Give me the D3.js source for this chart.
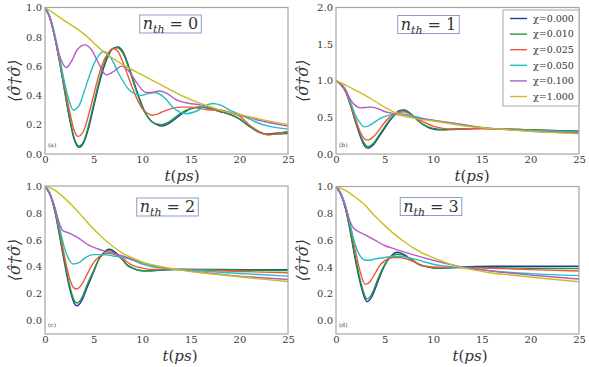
<!DOCTYPE html>
<html>
<head>
<meta charset="utf-8">
<script src="https://cdn.jsdelivr.net/npm/d3@7"></script>
<style>
  body { margin: 0; background: #fff; }
  svg text { font-family: "DejaVu Serif", "Liberation Serif", serif; }
</style>
</head>
<body>
<div id="chart"></div>
<script>
// Population <σ†σ> vs t(ps) for four thermal occupations, six χ values each

const chiLabels = ["χ=0.000", "χ=0.010", "χ=0.025", "χ=0.050", "χ=0.100", "χ=1.000"];
const colors = ["#1f3d9a", "#1d9a3c", "#f2553a", "#22bfc0", "#b35cc4", "#c9be1f"];
const xTicks = [0, 5, 10, 15, 20, 25];
const yTicksUnit = [0, 0.2, 0.4, 0.6, 0.8, 1.0];
const yTicksTwo = [0, 0.5, 1.0, 1.5, 2.0];
const nthValues = [0, 1, 2, 3];
const panelTags = ["(a)", "(b)", "(c)", "(d)"];

// panel (a): n_th = 0, points are [t, value]
const nA0 = [[0,1],[0.5,0.93],[1,0.8],[1.5,0.63],[2,0.44],[2.5,0.25],[3,0.1],[3.5,0.045],[4,0.08],[4.5,0.18],[5,0.32],[5.5,0.46],[6,0.58],[6.5,0.67],[7,0.72],[7.5,0.73],[8,0.7],[8.5,0.62],[9,0.52],[9.5,0.42],[10,0.33],[10.5,0.26],[11,0.22],[11.5,0.2],[12,0.19],[12.5,0.2],[13,0.22],[14,0.27],[15,0.31],[16,0.32],[17,0.31],[18,0.29],[19,0.27],[20,0.24],[21,0.19],[22,0.15],[22.8,0.135],[23.5,0.14],[25,0.15]];
const nA1 = [[0,1],[0.5,0.93],[1,0.8],[1.5,0.63],[2,0.44],[2.5,0.26],[3,0.11],[3.5,0.055],[4,0.09],[4.5,0.2],[5,0.34],[5.5,0.48],[6,0.6],[6.5,0.68],[7,0.72],[7.4,0.725],[8,0.69],[8.5,0.61],[9,0.51],[9.5,0.41],[10,0.32],[10.5,0.26],[11,0.22],[11.5,0.205],[12,0.2],[12.5,0.21],[13,0.23],[14,0.28],[15,0.31],[16,0.32],[17,0.31],[18,0.29],[19,0.27],[20,0.24],[21,0.19],[22,0.15],[22.7,0.135],[23.5,0.135],[25,0.14]];
const nA2 = [[0,1],[0.5,0.93],[1,0.8],[1.5,0.64],[2,0.47],[2.5,0.3],[3,0.16],[3.4,0.12],[4,0.16],[4.5,0.27],[5,0.4],[5.5,0.53],[6,0.63],[6.5,0.69],[7,0.72],[7.5,0.7],[8,0.63],[8.5,0.54],[9,0.45],[9.5,0.37],[10,0.31],[10.5,0.28],[11,0.265],[11.5,0.27],[12,0.285],[13,0.31],[14,0.32],[15,0.32],[16,0.31],[17,0.3],[18,0.3],[19,0.285],[20,0.26],[21,0.2],[22,0.155],[23,0.13],[24,0.14],[25,0.155]];
const nA3 = [[0,1],[0.5,0.94],[1,0.82],[1.5,0.66],[2,0.49],[2.5,0.36],[2.9,0.3],[3.5,0.33],[4,0.42],[4.5,0.52],[5,0.61],[5.5,0.67],[6,0.7],[6.5,0.68],[7,0.63],[7.5,0.56],[8,0.5],[8.5,0.45],[9,0.42],[9.8,0.4],[10.5,0.41],[11.3,0.42],[12,0.4],[12.5,0.37],[13,0.33],[13.5,0.3],[14.5,0.275],[15.5,0.29],[16.5,0.33],[17.3,0.345],[18,0.335],[19,0.3],[20,0.27],[21,0.24],[22,0.21],[23,0.19],[25,0.17]];
const nA4 = [[0,1],[0.5,0.93],[1,0.8],[1.5,0.67],[2.2,0.59],[2.7,0.63],[3.3,0.71],[4.1,0.745],[4.8,0.71],[5.5,0.62],[6.3,0.54],[7,0.56],[7.9,0.6],[8.7,0.56],[9.5,0.48],[10.4,0.42],[11,0.42],[11.7,0.43],[12.5,0.415],[13.5,0.37],[14.5,0.35],[16,0.335],[17,0.32],[18,0.3],[20,0.265],[22,0.23],[25,0.19]];
const nA5 = [[0,1],[2,0.91],[4,0.82],[6,0.7],[8,0.61],[10,0.54],[12,0.47],[14,0.4],[16,0.345],[18,0.3],[20,0.27],[22,0.24],[25,0.2]];

// panel (b): n_th = 1
const nB0 = [[0,1],[0.5,0.95],[1,0.85],[1.5,0.66],[2,0.44],[2.5,0.24],[3,0.1],[3.3,0.08],[3.8,0.12],[4.5,0.25],[5,0.35],[5.5,0.45],[6,0.53],[6.5,0.59],[7,0.6],[7.5,0.57],[8,0.51],[8.5,0.45],[9,0.4],[9.5,0.36],[10,0.34],[10.5,0.33],[11,0.33],[12,0.335],[13,0.34],[15,0.35],[17,0.34],[20,0.33],[25,0.31]];
const nB1 = [[0,1],[0.5,0.95],[1,0.85],[1.5,0.67],[2,0.46],[2.5,0.26],[3,0.13],[3.3,0.1],[3.8,0.14],[4.5,0.27],[5,0.37],[5.5,0.46],[6,0.53],[6.5,0.58],[6.9,0.59],[7.5,0.56],[8,0.51],[8.5,0.45],[9,0.4],[9.5,0.37],[10,0.35],[10.5,0.34],[11,0.335],[12,0.34],[13,0.345],[15,0.35],[17,0.34],[20,0.33],[25,0.31]];
const nB2 = [[0,1],[0.5,0.95],[1,0.85],[1.5,0.68],[2,0.48],[2.5,0.3],[3,0.2],[3.3,0.19],[3.8,0.23],[4.5,0.34],[5,0.43],[5.5,0.5],[6,0.55],[6.5,0.57],[7,0.575],[7.5,0.55],[8,0.51],[9,0.44],[10,0.38],[11,0.35],[12,0.34],[14,0.345],[16,0.345],[20,0.32],[25,0.3]];
const nB3 = [[0,1],[0.5,0.96],[1,0.88],[1.5,0.71],[2,0.53],[2.5,0.42],[2.9,0.37],[3.3,0.38],[3.8,0.42],[4.6,0.49],[5.5,0.53],[6.5,0.55],[7.5,0.53],[8.5,0.5],[10,0.46],[12,0.42],[14.5,0.37],[17,0.34],[20,0.32],[25,0.3]];
const nB4 = [[0,1],[0.8,0.91],[1.5,0.74],[2,0.66],[2.5,0.63],[3.5,0.64],[4.3,0.62],[5,0.58],[6,0.55],[7.5,0.51],[9,0.48],[11,0.44],[12.6,0.41],[15,0.36],[18,0.33],[20,0.31],[25,0.29]];
const nB5 = [[0,1],[1,0.94],[2,0.87],[3,0.8],[4,0.72],[5,0.64],[6,0.57],[7,0.52],[8,0.49],[10,0.45],[12,0.41],[14,0.37],[16,0.35],[18,0.33],[20,0.31],[22,0.295],[25,0.275]];

// panel (c): n_th = 2
const nC0 = [[0,1],[0.5,0.94],[1,0.82],[1.5,0.63],[2,0.43],[2.5,0.25],[3,0.13],[3.3,0.11],[3.8,0.15],[4.3,0.24],[5,0.36],[5.5,0.45],[6,0.5],[6.6,0.53],[7,0.52],[7.5,0.49],[8,0.45],[8.5,0.41],[9,0.39],[10,0.37],[11,0.37],[12,0.375],[14,0.38],[16,0.38],[20,0.378],[25,0.378]];
const nC1 = [[0,1],[0.5,0.94],[1,0.82],[1.5,0.64],[2,0.45],[2.5,0.27],[3,0.15],[3.3,0.13],[3.8,0.17],[4.3,0.26],[5,0.37],[5.5,0.45],[6,0.5],[6.6,0.52],[7,0.51],[7.5,0.48],[8,0.45],[8.5,0.41],[9,0.39],[10,0.37],[11,0.37],[12,0.375],[14,0.38],[16,0.378],[20,0.375],[25,0.372]];
const nC2 = [[0,1],[0.5,0.94],[1,0.84],[1.5,0.67],[2,0.48],[2.5,0.32],[3,0.24],[3.3,0.235],[3.8,0.27],[4.3,0.34],[5,0.43],[5.5,0.47],[6,0.49],[6.5,0.5],[7,0.495],[7.5,0.48],[8,0.46],[9,0.41],[10,0.39],[11,0.38],[12,0.38],[14,0.38],[16,0.375],[20,0.365],[25,0.355]];
const nC3 = [[0,1],[0.5,0.95],[1,0.84],[1.5,0.69],[2,0.54],[2.5,0.45],[2.9,0.42],[3.5,0.43],[4,0.46],[5,0.49],[6,0.49],[7,0.48],[8,0.47],[9,0.45],[10,0.42],[12,0.39],[14,0.38],[16,0.37],[20,0.35],[25,0.33]];
const nC4 = [[0,1],[0.5,0.94],[1,0.84],[1.5,0.72],[1.8,0.67],[2.5,0.65],[3.3,0.62],[4.5,0.56],[6,0.52],[8,0.48],[10,0.43],[12,0.395],[14,0.375],[16,0.36],[18,0.345],[20,0.33],[22,0.32],[25,0.305]];
const nC5 = [[0,1],[1,0.97],[2,0.91],[3,0.84],[4,0.76],[5,0.68],[6,0.61],[7,0.55],[8,0.5],[9,0.465],[10,0.435],[12,0.4],[14,0.375],[16,0.355],[18,0.34],[20,0.325],[22,0.31],[25,0.29]];

// panel (d): n_th = 3
const nD0 = [[0,1],[0.5,0.94],[1,0.83],[1.5,0.65],[2,0.45],[2.5,0.28],[3,0.16],[3.2,0.14],[3.7,0.18],[4.2,0.27],[4.8,0.38],[5.3,0.45],[5.8,0.49],[6.2,0.51],[6.8,0.5],[7.5,0.47],[8.5,0.42],[9.5,0.4],[10.5,0.39],[12,0.395],[13,0.4],[16,0.405],[20,0.405],[25,0.405]];
const nD1 = [[0,1],[0.5,0.94],[1,0.83],[1.5,0.66],[2,0.47],[2.5,0.3],[3,0.18],[3.2,0.16],[3.7,0.2],[4.2,0.29],[4.8,0.39],[5.3,0.45],[5.8,0.485],[6.3,0.495],[6.8,0.49],[7.5,0.465],[8.5,0.42],[9.5,0.4],[10.5,0.39],[12,0.395],[13,0.398],[16,0.395],[20,0.39],[25,0.388]];
const nD2 = [[0,1],[0.5,0.95],[1,0.85],[1.5,0.7],[2,0.52],[2.5,0.36],[3,0.27],[3.5,0.29],[4,0.35],[4.5,0.41],[5,0.445],[5.5,0.465],[6,0.47],[6.5,0.47],[7,0.465],[8,0.44],[9,0.41],[10,0.4],[12,0.395],[13,0.395],[16,0.39],[20,0.38],[25,0.37]];
const nD3 = [[0,1],[0.5,0.95],[1,0.85],[1.5,0.7],[2,0.56],[2.5,0.48],[3,0.45],[3.5,0.45],[4,0.46],[5,0.47],[6,0.48],[7,0.475],[8,0.46],[9,0.44],[10,0.42],[12,0.4],[13,0.395],[16,0.37],[20,0.35],[25,0.335]];
const nD4 = [[0,1],[0.5,0.94],[1,0.84],[1.5,0.73],[1.8,0.69],[3,0.64],[4,0.6],[5,0.56],[6,0.535],[8,0.49],[10,0.45],[12,0.415],[13,0.4],[16,0.37],[20,0.34],[25,0.31]];
const nD5 = [[0,1],[1,0.97],[2,0.92],[3,0.86],[4,0.78],[5,0.71],[6,0.645],[7,0.59],[8,0.54],[9,0.5],[10,0.47],[12,0.415],[14,0.38],[16,0.355],[18,0.34],[20,0.325],[22,0.31],[25,0.29]];

const W = 589, H = 367;

// layout of each axes box (pixels), plus where the title box / labels go
const panels = [
    { series: [nA0, nA1, nA2, nA3, nA4, nA5], x0: 45, x1: 288, y0: 7.5, y1: 154, ydom: [0, 1], yticks: yTicksUnit, titleX: 170.5, titleY: 24, xlabX: 182, xlabY: 181, ylabX: 14 },
    { series: [nB0, nB1, nB2, nB3, nB4, nB5], x0: 336, x1: 579, y0: 7.5, y1: 154, ydom: [0, 2], yticks: yTicksTwo, titleX: 428.5, titleY: 24.5, xlabX: 472, xlabY: 181, ylabX: 302 },
    { series: [nC0, nC1, nC2, nC3, nC4, nC5], x0: 45, x1: 288, y0: 186, y1: 334, ydom: [-0.1, 1], yticks: yTicksUnit, titleX: 167.5, titleY: 207, xlabX: 180, xlabY: 361, ylabX: 14 },
    { series: [nD0, nD1, nD2, nD3, nD4, nD5], x0: 336, x1: 579, y0: 186.5, y1: 334, ydom: [-0.1, 1], yticks: yTicksUnit, titleX: 431, titleY: 206.5, xlabX: 470, xlabY: 361, ylabX: 302 }
];

const svg = d3.select("#chart")
    .append("svg")
    .attr("width", W)
    .attr("height", H);

svg.append("rect").attr("width", W).attr("height", H).attr("fill", "#fff");

panels.forEach((p, pi) => {
    const x = d3.scaleLinear().domain([0, 25]).range([p.x0, p.x1]);
    const y = d3.scaleLinear().domain(p.ydom).range([p.y1, p.y0]);

    const clipId = "clip" + pi;
    svg.append("clipPath").attr("id", clipId)
        .append("rect")
        .attr("x", p.x0).attr("y", p.y0)
        .attr("width", p.x1 - p.x0).attr("height", p.y1 - p.y0);

    const line = d3.line()
        .x(d => x(d[0]))
        .y(d => y(d[1]))
        .curve(d3.curveMonotoneX);

    svg.append("g")
        .attr("clip-path", `url(#${clipId})`)
        .selectAll("path")
        .data(p.series)
        .join("path")
        .attr("fill", "none")
        .attr("stroke", (d, i) => colors[i])
        .attr("stroke-width", 1.4)
        .attr("d", d => line(d));

    // frame
    svg.append("rect")
        .attr("x", p.x0).attr("y", p.y0)
        .attr("width", p.x1 - p.x0).attr("height", p.y1 - p.y0)
        .attr("fill", "none")
        .attr("stroke", "#a6a6a6")
        .attr("stroke-width", 1.2);

    // axes
    const xAxis = svg.append("g")
        .attr("transform", `translate(0,${p.y1})`)
        .call(d3.axisBottom(x).tickValues(xTicks).tickSize(0).tickPadding(2).tickFormat(d3.format("d")));
    const yAxis = svg.append("g")
        .attr("transform", `translate(${p.x0},0)`)
        .call(d3.axisLeft(y).tickValues(p.yticks).tickSize(0).tickPadding(3).tickFormat(d3.format(".1f")));
    [xAxis, yAxis].forEach(g => {
        g.select(".domain").remove();
        g.selectAll("text")
            .attr("fill", "#3a3a3a")
            .style("font-size", "10px");
    });

    // small panel tag
    svg.append("text")
        .attr("x", p.x0 + 3).attr("y", p.y1 - 7)
        .attr("fill", "#444")
        .style("font-size", "6px")
        .text(panelTags[pi]);

    // title box n_th = k
    const title = svg.append("text")
        .attr("x", p.titleX).attr("y", p.titleY + 5)
        .attr("text-anchor", "middle")
        .attr("fill", "#333")
        .style("font-size", "16px");
    title.append("tspan").style("font-style", "italic").text("n");
    title.append("tspan").style("font-style", "italic").style("font-size", "11px").attr("dy", 4).text("th");
    title.append("tspan").attr("dy", -4).text(" = " + nthValues[pi]);
    const bb = title.node().getBBox();
    svg.insert("rect", () => title.node())
        .attr("x", bb.x - 3).attr("y", p.titleY - 9)
        .attr("width", bb.width + 6).attr("height", 18)
        .attr("fill", "#fff")
        .attr("stroke", "#8b9dc9")
        .attr("stroke-width", 1);

    // x label t(ps)
    const xl = svg.append("text")
        .attr("x", p.xlabX).attr("y", p.xlabY)
        .attr("text-anchor", "middle")
        .attr("fill", "#333")
        .style("font-size", "15px");
    xl.append("tspan").style("font-style", "italic").text("t");
    xl.append("tspan").text("(");
    xl.append("tspan").style("font-style", "italic").text("ps");
    xl.append("tspan").text(")");

    // y label <σ†σ>
    svg.append("text")
        .attr("transform", `translate(${p.ylabX},${(p.y0 + p.y1) / 2}) rotate(-90)`)
        .attr("text-anchor", "middle")
        .attr("dy", "0.35em")
        .attr("fill", "#333")
        .style("font-size", "16px")
        .style("font-style", "italic")
        .text("\u27E8\u03C3\u0302\u2020\u03C3\u0302\u27E9");
});

// legend inside panel (b)
const legend = svg.append("g");
legend.append("rect")
    .attr("x", 503).attr("y", 10)
    .attr("width", 76).attr("height", 96)
    .attr("fill", "#fff")
    .attr("stroke", "#a6a6a6")
    .attr("stroke-width", 1);
chiLabels.forEach((lab, i) => {
    const ly = 18.5 + i * 15.6;
    legend.append("line")
        .attr("x1", 510).attr("x2", 527)
        .attr("y1", ly).attr("y2", ly)
        .attr("stroke", colors[i])
        .attr("stroke-width", 1.4);
    legend.append("text")
        .attr("x", 533).attr("y", ly)
        .attr("dy", "0.35em")
        .attr("fill", "#333")
        .style("font-size", "9.5px")
        .text(lab);
});
</script>
</body>
</html>
